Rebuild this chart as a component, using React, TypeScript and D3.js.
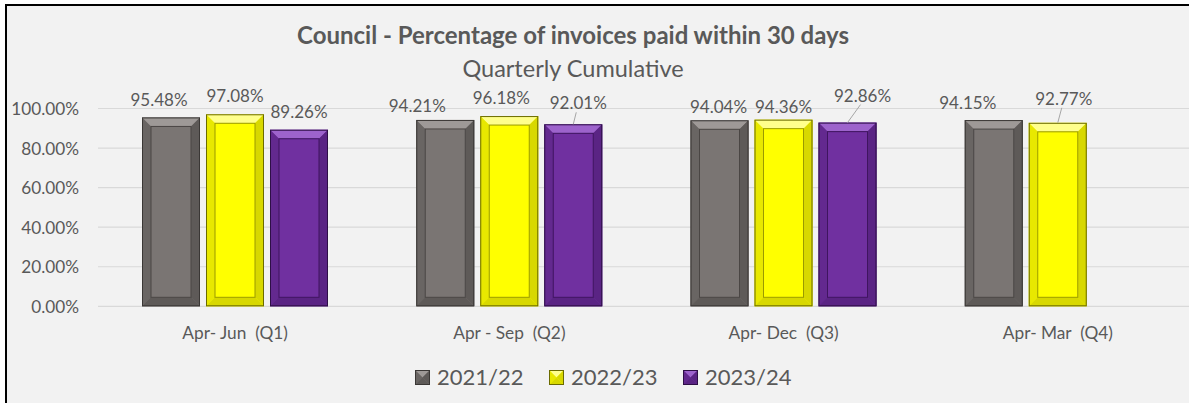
import React from 'react';
import * as d3 from 'd3';

const quarters = ['Apr- Jun  (Q1)', 'Apr - Sep  (Q2)', 'Apr- Dec  (Q3)', 'Apr- Mar  (Q4)'];
const years = ['2021/22', '2022/23', '2023/24'];
const fy2122 = [95.48, 94.21, 94.04, 94.15];
const fy2223 = [97.08, 96.18, 94.36, 92.77];
const fy2324: (number | null)[] = [89.26, 92.01, 92.86, null];
const yTicks = [0, 20, 40, 60, 80, 100];

// manual label nudges [dx, dy] like the moved labels in the workbook
const nudges = [
  [[-12, 0], [-28, 3], [-1, 4], [-26, 0]],
  [[0, -1], [-8, -1], [0, 4], [6, -7]],
  [[0, -1], [5, -4], [15, -10], [0, 0]],
];
const leaders = [
  [false, false, false, false],
  [false, false, false, true],
  [false, true, true, false],
];

const palette = [
  { base: '#7a7573', light: '#9e9997', dark: '#5e5a58', edge: '#3a3735', line: '#4a4644' },
  { base: '#ffff00', light: '#ffff8c', dark: '#d8d800', edge: '#6b6b00', line: '#9a9a00' },
  { base: '#7030a0', light: '#9d63cc', dark: '#5a2484', edge: '#2e0f47', line: '#3f155f' },
];

const W = 1189;
const H = 403;
const FONT = 'Lato, "Noto Sans", sans-serif';
const TXT = '#595959';

const BevelBar = ({ x, y, w, h, c }) => {
  const b = Math.min(9, h / 2);
  return (
    <g>
      <rect x={x} y={y} width={w} height={h} fill={c.base} />
      <polygon points={`${x},${y} ${x + w},${y} ${x + w - b},${y + b} ${x + b},${y + b}`} fill={c.light} />
      <polygon points={`${x},${y} ${x + b},${y + b} ${x + b},${y + h - b} ${x},${y + h}`} fill={c.dark} opacity={0.6} />
      <polygon points={`${x + w},${y} ${x + w - b},${y + b} ${x + w - b},${y + h - b} ${x + w},${y + h}`} fill={c.dark} />
      <polygon points={`${x},${y + h} ${x + b},${y + h - b} ${x + w - b},${y + h - b} ${x + w},${y + h}`} fill={c.dark} />
      <rect x={x + b} y={y + b} width={w - 2 * b} height={h - 2 * b} fill={c.base} stroke={c.line} strokeWidth={1} />
      <rect x={x + 0.5} y={y + 0.5} width={w - 1} height={h - 1} fill="none" stroke={c.edge} strokeWidth={1} />
    </g>
  );
};

const App = () => {
  const series = [fy2122, fy2223, fy2324];
  const x0 = d3.scaleBand().domain(quarters).range([98, 1195]);
  const x1 = d3.scaleBand().domain(years).range([44, 230]).paddingInner(6 / 64);
  const y = d3.scaleLinear().domain([0, 100]).range([306.3, 108.5]);
  const fmt = (v: number) => v.toFixed(2) + '%';

  return (
    <svg width={W} height={H} style={{ position: 'absolute', left: 0, top: 0 }} fontFamily={FONT}>
      <rect x={0} y={0} width={W} height={H} fill="#ffffff" />
      <rect x={6} y={5} width={W + 10} height={H + 10} fill="#f2f2f2" stroke="#000" strokeWidth={2} />

      <text x={573} y={44} textAnchor="middle" fontSize={24} fontWeight="bold" fill={TXT}>
        Council - Percentage of invoices paid within 30 days
      </text>
      <text x={573} y={77} textAnchor="middle" fontSize={23.5} fill={TXT}>
        Quarterly Cumulative
      </text>

      {yTicks.map(t => (
        <g key={t}>
          <line x1={98} x2={W} y1={y(t)} y2={y(t)} stroke="#d9d9d9" strokeWidth={1.2} />
          <text x={79} y={y(t) + 6.5} textAnchor="end" fontSize={17.2} fill={TXT}>{t.toFixed(2)}%</text>
        </g>
      ))}

      {series.map((vals, si) =>
        vals.map((v, qi) => {
          if (v == null) return null;
          const bx = x0(quarters[qi])! + x1(years[si])!;
          const bw = x1.bandwidth();
          const top = y(v);
          const [dx, dy] = nudges[si][qi];
          const lx = bx + bw / 2 + dx;
          const ly = top - 17 + dy;
          return (
            <g key={`${si}-${qi}`}>
              <BevelBar x={bx} y={top} w={bw} h={y(0) - top} c={palette[si]} />
              {leaders[si][qi] && (
                <line x1={lx - 2} y1={ly + 9} x2={bx + bw / 2} y2={top} stroke="#a6a6a6" strokeWidth={1} />
              )}
              <text x={lx} y={ly + 6} textAnchor="middle" fontSize={17} fill={TXT}>{fmt(v)}</text>
            </g>
          );
        })
      )}

      {quarters.map(q => (
        <text key={q} x={x0(q)! + x0.bandwidth() / 2} y={339} textAnchor="middle" fontSize={17.3}
          fill={TXT} style={{ whiteSpace: 'pre' }}>{q}</text>
      ))}

      {years.map((yr, i) => {
        const lx = 415 + i * 134;
        const c = palette[i];
        return (
          <g key={yr}>
            <BevelBar x={lx} y={370} w={15} h={15} c={{ ...c, line: c.base }} />
            <text x={lx + 22} y={385} fontSize={22} fill={TXT}>{yr}</text>
          </g>
        );
      })}
    </svg>
  );
};

export default App;
